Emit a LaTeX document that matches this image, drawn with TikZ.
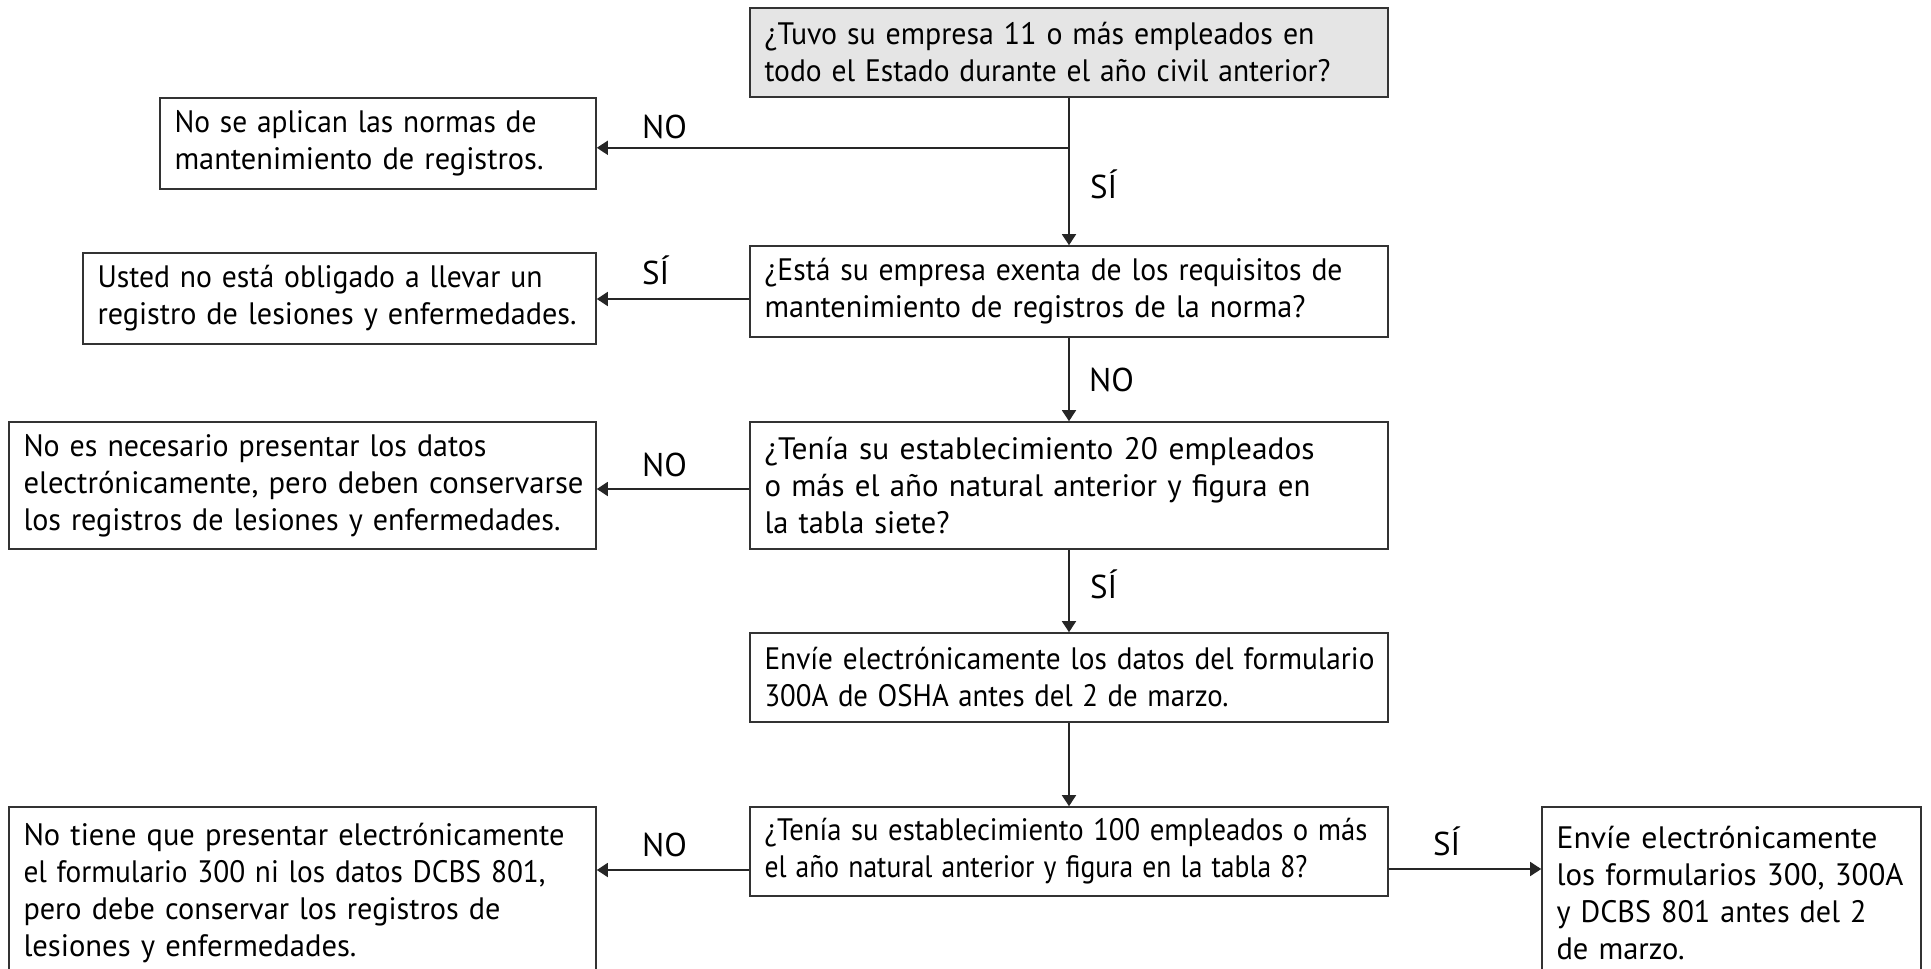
\documentclass[tikz,border=0pt]{standalone}
\usepackage{fontspec}
\setmainfont{PT Sans}[WordSpace=0.8]
\usetikzlibrary{arrows.meta,calc}
\newcommand\fitline[2]{\resizebox{#1pt}{\height}{#2}}
\begin{document}
\begin{tikzpicture}[x=1pt,y=-1pt,
  boxstyle/.style={draw=black!80,line width=1.6pt,rectangle,inner xsep=14.5pt,inner ysep=0pt,
     align=left,font=\fontsize{31}{37}\selectfont,anchor=center},
  qbox/.style={boxstyle,text width=609pt},
  arr/.style={draw=black!85,line width=1.6pt,-{Triangle[length=11pt,width=14pt]}},
  lab/.style={font=\fontsize{33}{37}\selectfont,inner sep=0pt,anchor=base west}]
\useasboundingbox (0,0) rectangle (1931,969);
\clip (0,0) rectangle (1931,969);
% question column
\node[qbox,fill=black!10,minimum height=89pt] (q1) at (1069,52.5)
  {\fitline{550}{¿Tuvo su empresa 11 o más empleados en}\\\fitline{566}{todo el Estado durante el año civil anterior?}};
\node[qbox,minimum height=91pt] (q2) at (1069,291.5)
  {\fitline{578}{¿Está su empresa exenta de los requisitos de}\\\fitline{541}{mantenimiento de registros de la norma?}};
\node[qbox,minimum height=127pt] (q3) at (1069,485.5)
  {\fitline{550}{¿Tenía su establecimiento 20 empleados}\\\fitline{546}{o más el año natural anterior y figura en}\\\fitline{185}{la tabla siete?}};
\node[qbox,minimum height=89pt] (q4) at (1069,677.5)
  {\fitline{610}{Envíe electrónicamente los datos del formulario}\\\fitline{464}{300A de OSHA antes del 2 de marzo.}};
\node[qbox,minimum height=89pt] (q5) at (1069,851.5)
  {\fitline{603}{¿Tenía su establecimiento 100 empleados o más}\\\fitline{543}{el año natural anterior y figura en la tabla 8?}};
% result boxes
\node[boxstyle,text width=407pt,minimum height=91pt] (r1) at (378,143.5)
  {\fitline{362}{No se aplican las normas de}\\\fitline{369}{mantenimiento de registros.}};
\node[boxstyle,text width=484pt,minimum height=91pt] (r2) at (339.5,298.5)
  {\fitline{445}{Usted no está obligado a llevar un}\\\fitline{479}{registro de lesiones y enfermedades.}};
\node[boxstyle,text width=558pt,minimum height=127pt] (r3) at (302.5,485.5)
  {\fitline{463}{No es necesario presentar los datos}\\\fitline{560}{electrónicamente, pero deben conservarse}\\\fitline{537}{los registros de lesiones y enfermedades.}};
\node[boxstyle,text width=558pt,minimum height=173pt] (r5) at (302.5,893.5)
  {\fitline{541}{No tiene que presentar electrónicamente}\\\fitline{522}{el formulario 300 ni los datos DCBS 801,}\\\fitline{477}{pero debe conservar los registros de}\\\fitline{333}{lesiones y enfermedades.}};
\node[boxstyle,text width=350pt,minimum height=173pt] (s5) at (1731.5,893.5)
  {\fitline{321}{Envíe electrónicamente}\\\fitline{347}{los formularios 300, 300A}\\\fitline{310}{y DCBS 801 antes del 2}\\\fitline{128}{de marzo.}};
% connectors
\coordinate (br) at ($(q1.south)+(0,50)$);
\draw[arr] (q1.south) -- (q2.north);
\draw[arr] (br) -- (br -| r1.east);
\draw[arr] ([yshift=-0.5pt]q2.west |- r2.east) -- ([yshift=-0.5pt]r2.east);
\draw[arr] (q2.south) -- (q3.north);
\draw[arr] ([yshift=-3.5pt]q3.west) -- ([yshift=-3.5pt]r3.east);
\draw[arr] (q3.south) -- (q4.north);
\draw[arr] (q4.south) -- (q5.north);
\draw[arr] ([yshift=-18.5pt]q5.west) -- ([yshift=-18.5pt]q5.west -| r5.east);
\draw[arr] ([yshift=-17.5pt]q5.east) -- ([yshift=-17.5pt]q5.east -| s5.west);
% labels
\node[lab] (l1) at (642,138) {NO};
\node[lab] (l2) at (1090,198) {SÍ};
\node[lab] (l3) at (642,284) {SÍ};
\node[lab] (l4) at (1089,391) {NO};
\node[lab] (l5) at (642,476) {NO};
\node[lab] (l6) at (1090,598) {SÍ};
\node[lab] (l7) at (642,856) {NO};
\node[lab] (l8) at (1433,855) {SÍ};
\end{tikzpicture}
\end{document}
